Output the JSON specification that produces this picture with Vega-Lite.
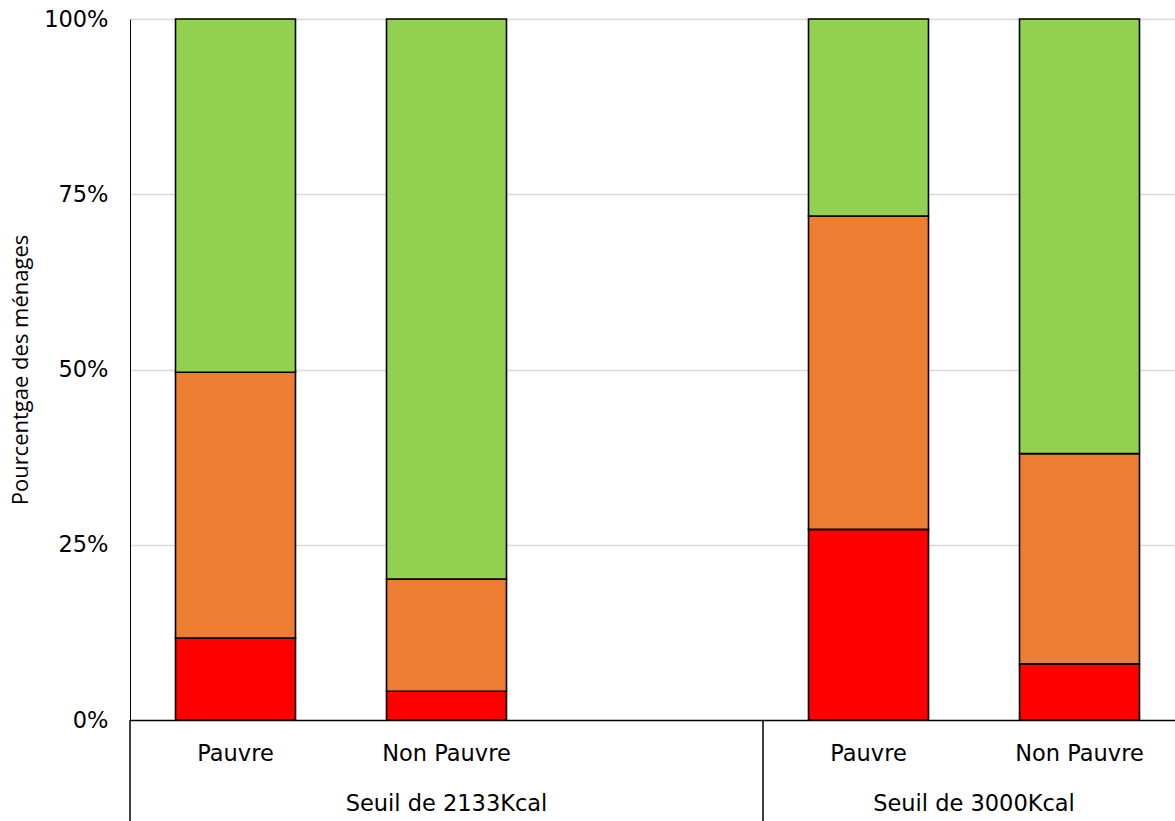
{
  "$schema": "https://vega.github.io/schema/vega-lite/v6.json",
  "width": 1045,
  "height": 701,
  "autosize": {"type": "none"},
  "padding": {"left": 130, "top": 19, "right": 0, "bottom": 101},
  "background": "white",
  "config": {"view": {"stroke": null}, "font": "DejaVu Sans"},
  "datasets": {
    "barres": [
      {"slot": "P1", "niveau": "Sévère", "part": 0.117},
      {"slot": "P1", "niveau": "Modéré", "part": 0.379},
      {"slot": "P1", "niveau": "Sécurité", "part": 0.504},
      {"slot": "N1", "niveau": "Sévère", "part": 0.041},
      {"slot": "N1", "niveau": "Modéré", "part": 0.160},
      {"slot": "N1", "niveau": "Sécurité", "part": 0.799},
      {"slot": "P2", "niveau": "Sévère", "part": 0.272},
      {"slot": "P2", "niveau": "Modéré", "part": 0.447},
      {"slot": "P2", "niveau": "Sécurité", "part": 0.281},
      {"slot": "N2", "niveau": "Sévère", "part": 0.080},
      {"slot": "N2", "niveau": "Modéré", "part": 0.300},
      {"slot": "N2", "niveau": "Sécurité", "part": 0.620}
    ],
    "separateurs": [{"slot": "P1"}, {"slot": "P2"}],
    "seuil1": [{"slot": "N1", "seuil": "Seuil de 2133Kcal"}],
    "seuil2": [{"slot": "N2", "seuil": "Seuil de 3000Kcal"}]
  },
  "layer": [
    {
      "data": {"name": "barres"},
      "transform": [
        {"calculate": "indexof(['Sévère','Modéré','Sécurité'], datum.niveau)", "as": "rang"}
      ],
      "mark": {"type": "bar", "width": {"band": 0.5687}, "stroke": "black", "strokeWidth": 1.6},
      "encoding": {
        "x": {
          "field": "slot",
          "type": "nominal",
          "scale": {"domain": ["P1", "N1", "E", "P2", "N2"], "range": [0, 1055], "paddingInner": 0, "paddingOuter": 0},
          "axis": {
            "title": null,
            "labelExpr": "(datum.value=='P1'||datum.value=='P2') ? 'Pauvre' : (datum.value=='E' ? '' : 'Non Pauvre')",
            "domain": false,
            "ticks": false,
            "grid": false,
            "labelAngle": 0,
            "labelPadding": 22,
            "labelFontSize": 22.5,
            "labelColor": "black"
          }
        },
        "y": {
          "field": "part",
          "type": "quantitative",
          "stack": "zero",
          "scale": {"domain": [0, 1], "nice": false},
          "axis": {
            "title": "Pourcentgae des ménages",
            "titleFont": "Open Sans",
            "titleFontSize": 22,
            "titleFontWeight": "normal",
            "titleColor": "black",
            "titlePadding": 11,
            "format": ".0%",
            "values": [0, 0.25, 0.5, 0.75, 1],
            "domain": true,
            "domainColor": "black",
            "domainWidth": 1,
            "ticks": false,
            "tickSize": 0,
            "labelPadding": 22,
            "labelFontSize": 22.5,
            "labelColor": "black",
            "grid": true,
            "gridColor": {"condition": {"test": "datum.value === 0", "value": "black"}, "value": "#d9d9d9"},
            "gridWidth": {"condition": {"test": "datum.value === 0", "value": 1.5}, "value": 1.4}
          }
        },
        "color": {
          "field": "niveau",
          "type": "nominal",
          "scale": {"domain": ["Sévère", "Modéré", "Sécurité"], "range": ["#FF0000", "#ED7D31", "#92D050"]},
          "legend": null
        },
        "order": {"field": "rang", "type": "quantitative"}
      }
    },
    {
      "data": {"name": "separateurs"},
      "mark": {"type": "rule", "color": "black", "strokeWidth": 1.5},
      "encoding": {
        "x": {"field": "slot", "type": "nominal", "bandPosition": 0},
        "y": {"datum": 0},
        "y2": {"datum": -0.2}
      }
    },
    {
      "data": {"name": "seuil1"},
      "mark": {"type": "text", "fontSize": 22.5, "baseline": "middle", "align": "center", "color": "black"},
      "encoding": {
        "x": {"field": "slot", "type": "nominal", "bandPosition": 0.5},
        "y": {"datum": -0.12},
        "text": {"field": "seuil"}
      }
    },
    {
      "data": {"name": "seuil2"},
      "mark": {"type": "text", "fontSize": 22.5, "baseline": "middle", "align": "center", "color": "black"},
      "encoding": {
        "x": {"field": "slot", "type": "nominal", "bandPosition": 0},
        "y": {"datum": -0.12},
        "text": {"field": "seuil"}
      }
    }
  ]
}
